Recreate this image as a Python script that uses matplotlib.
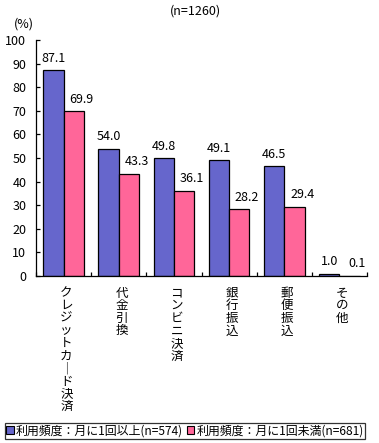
import matplotlib
matplotlib.use("Agg")
import matplotlib.pyplot as plt
import numpy as np
from matplotlib.patches import Patch

plt.rcParams['font.family'] = ['Noto Sans CJK JP', 'DejaVu Sans']

categories = ['クレジットカード決済', '代金引換', 'コンビニ決済', '銀行振込', '郵便振込', 'その他']
series1_name = '利用頻度：月に1回以上(n=574)'
series2_name = '利用頻度：月に1回未満(n=681)'
series1 = [87.1, 54.0, 49.8, 49.1, 46.5, 1.0]
series2 = [69.9, 43.3, 36.1, 28.2, 29.4, 0.1]
yticks = [0, 10, 20, 30, 40, 50, 60, 70, 80, 90, 100]

blue = '#6666CC'
pink = '#FF6699'

W, H = 379, 443
fig = plt.figure(figsize=(W / 100, H / 100), dpi=100)
ax = fig.add_axes([36 / W, 1 - 276 / H, (367 - 36) / W, (276 - 40) / H])

n = len(categories)
x = np.arange(n)
bw = 0.37
ax.bar(x - bw / 2, series1, bw, color=blue, edgecolor='black', linewidth=0.9)
ax.bar(x + bw / 2, series2, bw, color=pink, edgecolor='black', linewidth=0.9)

fs = 9
for i in range(n):
    ax.text(x[i] - bw / 2, series1[i] + 2.3, f'{series1[i]:.1f}', ha='center', va='bottom', fontsize=fs)
    ax.text(x[i] + bw / 2 + 0.14, series2[i] + 2.3, f'{series2[i]:.1f}', ha='center', va='bottom', fontsize=fs)

ax.set_xlim(-0.5, n - 0.5)
ax.set_ylim(0, 100)
ax.set_yticks(yticks)
ax.set_yticklabels([str(v) for v in yticks], fontsize=fs)
ax.tick_params(axis='y', direction='in', length=3, width=0.9, pad=7)
ax.set_xticks(np.arange(n + 1) - 0.5)
ax.set_xticklabels([])
ax.tick_params(axis='x', direction='in', length=3, width=0.9)
for s in ['top', 'right']:
    ax.spines[s].set_visible(False)
for s in ['left', 'bottom']:
    ax.spines[s].set_linewidth(0.9)

vmap = {'ー': '｜'}
for i, c in enumerate(categories):
    txt = '\n'.join(vmap.get(ch, ch) for ch in c)
    ax.text(x[i] + 0.05, -4.5, txt, ha='center', va='top', fontsize=fs, linespacing=0.96,
            transform=ax.transData)

fig.text(14 / W, 1 - 24 / H, '(%)', fontsize=fs, va='center', ha='left')
fig.text(195 / W, 1 - 11 / H, '(n=1260)', fontsize=fs, va='center', ha='center')

handles = [Patch(facecolor=blue, edgecolor='black', linewidth=0.8),
           Patch(facecolor=pink, edgecolor='black', linewidth=0.8)]
leg = fig.legend(handles, [series1_name, series2_name], ncol=2, loc='center',
                 bbox_to_anchor=(185 / W, 1 - 431 / H), fontsize=8.6,
                 handlelength=0.6, handleheight=0.6, handletextpad=0.2, columnspacing=0.3,
                 borderpad=0.1, borderaxespad=0, frameon=True, fancybox=False, edgecolor='black')
leg.get_frame().set_linewidth(0.9)

fig.savefig('out.png', dpi=100)
